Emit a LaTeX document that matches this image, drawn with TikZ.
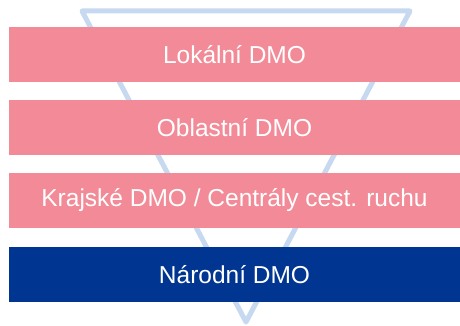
\documentclass[tikz,border=0pt]{standalone}
\usepackage{fontspec}
\setmainfont{Liberation Sans}
\definecolor{barpink}{HTML}{F28B97}
\definecolor{bardark}{HTML}{003591}
\definecolor{trilight}{HTML}{C6D9F0}
\begin{document}
\begin{tikzpicture}[x=1pt,y=-1pt,
  bar/.style={rectangle, minimum width=451pt, minimum height=55pt, inner sep=0pt,
    text=white, font=\fontsize{24.5}{28}\selectfont},
  pinkbar/.style={bar, fill=barpink},
  darkbar/.style={bar, fill=bardark},
  funnel/.style={draw=trilight, line width=5pt, line join=round, line cap=round}]
\useasboundingbox (0,0) rectangle (460,326);
\draw[funnel] (82,11) -- (410,11) -- (246,322) -- cycle;
\node[pinkbar] (lok) at (234.5,54.5) {Lokální DMO};
\node[pinkbar] (obl) at (234.5,127.5) {Oblastní DMO};
\node[pinkbar] (kra) at (234.5,200.5) {Krajské DMO / Centrály cest. ruchu};
\node[darkbar] (nar) at (234.5,274.5) {Národní DMO};
\end{tikzpicture}
\end{document}
